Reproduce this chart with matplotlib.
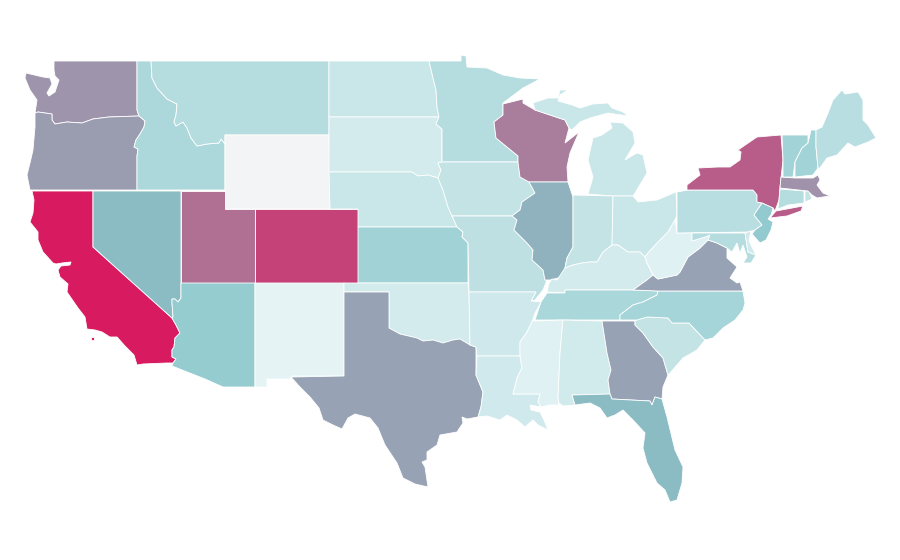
import matplotlib
matplotlib.use('Agg')
from matplotlib import pyplot as plt
from matplotlib.colors import LinearSegmentedColormap, Normalize
from matplotlib.patches import Polygon

# share per state (0-100)
states = ['WA', 'OR', 'CA', 'NV', 'ID', 'MT', 'WY', 'UT', 'AZ', 'CO', 'NM', 'ND', 'SD', 'NE', 'KS', 'OK',
          'TX', 'MN', 'IA', 'MO', 'AR', 'LA', 'WI', 'IL', 'MI', 'IN', 'OH', 'KY', 'TN', 'MS', 'AL', 'GA',
          'FL', 'SC', 'NC', 'VA', 'WV', 'PA', 'NY', 'NJ', 'MD', 'DE', 'CT', 'RI', 'MA', 'VT', 'NH', 'ME']
values = [53, 50, 100, 38, 22, 19.2, 0, 67.5, 30, 85, 4, 13, 9.7, 13, 25.8, 9.7,
          47.5, 19.2, 15, 16.7, 11.6, 10.7, 62, 42, 13, 15, 13, 9.7, 22.7, 5.5, 10.5, 47.5,
          38, 15, 24.3, 47.5, 5.5, 18.3, 74.5, 31, 19.5, 10, 19.2, 15, 54, 25.3, 25.3, 18.3]

# state outlines in map units (one list per ring)
outlines = {
    'WA': [[(54, 61), (137, 61), (137, 110), (139, 116), (109, 117), (93, 119), (82, 123), (67, 122), (55, 124),
            (52, 120), (52, 114), (38, 112), (35, 113), (37, 100), (30, 90), (25, 78), (26, 73), (43, 77), (50, 78),
            (52, 84), (47, 93), (49, 96), (55, 92), (59, 80), (55, 76), (54, 70)]],
    'OR': [[(35, 113), (38, 112), (52, 114), (52, 120), (55, 124), (67, 122), (82, 123), (93, 119), (109, 117),
            (139, 116), (145, 121), (144, 127), (140, 134), (136, 140), (134, 147), (138, 149), (137, 156), (137, 190),
            (30, 190), (27, 175), (30, 163), (33, 150), (35, 127)]],
    'CA': [[(32, 191), (93, 191), (93, 247), (172, 318), (176, 325), (180, 333), (175, 338), (174, 347), (172, 350),
            (172, 357), (176, 359), (173, 363), (167, 363), (143, 364), (137, 365), (134, 355), (125, 346), (117, 337),
            (110, 337), (102, 332), (95, 330), (87, 329), (85, 317), (78, 308), (67, 292), (68, 284), (60, 277),
            (58, 270), (61, 266), (70, 265), (71, 262), (62, 263), (56, 264), (53, 263), (43, 252), (38, 240),
            (38, 232), (30, 222), (33, 213), (34, 200)],
           [(91, 337), (94, 337), (94, 340), (91, 340)]],
    'NV': [[(93, 191), (181, 191), (181, 298), (178, 302), (175, 299), (172, 299), (172, 303), (173, 317), (172, 318),
            (93, 247)]],
    'ID': [[(137, 61), (151, 61), (152, 78), (157, 88), (167, 99), (177, 104), (176, 115), (174, 122), (176, 126),
            (183, 122), (187, 128), (191, 138), (197, 146), (207, 144), (219, 143), (221, 139), (225, 144), (225, 190),
            (137, 190), (137, 156), (138, 149), (134, 147), (136, 140), (140, 134), (144, 127), (145, 121), (139, 116),
            (137, 110)]],
    'MT': [[(151, 61), (329, 61), (329, 135), (225, 135), (225, 144), (221, 139), (219, 143), (207, 144), (197, 146),
            (191, 138), (187, 128), (183, 122), (176, 126), (174, 122), (176, 115), (177, 104), (167, 99), (157, 88),
            (152, 78)]],
    'WY': [[(225, 135), (329, 135), (330, 209), (225, 209)]],
    'UT': [[(181, 191), (225, 191), (225, 209), (255, 209), (255, 283), (181, 283)]],
    'AZ': [[(181, 283), (255, 283), (255, 387), (223, 387), (205, 379), (172, 366), (173, 363), (176, 359), (172, 357),
            (172, 350), (174, 347), (175, 338), (180, 333), (176, 325), (172, 318), (173, 317), (172, 303), (172, 299),
            (175, 299), (178, 302), (181, 298)]],
    'CO': [[(255, 209), (358, 209), (358, 283), (255, 283)]],
    'NM': [[(255, 283), (344, 283), (344, 376), (292, 376), (290, 379), (267, 379), (267, 387), (255, 387)]],
    'ND': [[(329, 61), (429, 61), (433, 78), (436, 90), (437, 107), (439, 117), (329, 117)]],
    'SD': [[(329, 117), (439, 117), (436, 124), (442, 129), (442, 162), (438, 163), (441, 170), (438, 178), (428, 175),
            (418, 176), (412, 172), (329, 172)]],
    'NE': [[(329, 172), (412, 172), (418, 176), (428, 175), (438, 178), (443, 190), (448, 207), (457, 227), (358, 227),
            (358, 209), (330, 209)]],
    'KS': [[(358, 227), (457, 227), (463, 232), (462, 237), (468, 243), (468, 283), (358, 283)]],
    'OK': [[(344, 283), (468, 283), (469, 292), (470, 345), (460, 339), (453, 340), (443, 343), (433, 340), (423, 341),
            (417, 338), (400, 334), (389, 328), (389, 292), (344, 292)]],
    'TX': [[(344, 292), (389, 292), (389, 328), (400, 334), (417, 338), (423, 341), (433, 340), (443, 343), (453, 340),
            (460, 339), (470, 345), (476, 347), (476, 375), (483, 392), (481, 407), (478, 417), (467, 419), (462, 417),
            (463, 423), (457, 432), (440, 435), (437, 445), (427, 452), (427, 460), (422, 462), (425, 467), (428, 487),
            (415, 484), (403, 478), (397, 463), (385, 445), (378, 428), (370, 418), (355, 414), (348, 418), (342, 429),
            (333, 425), (323, 420), (319, 408), (310, 397), (300, 387), (291, 377), (344, 376)]],
    'MN': [[(429, 61), (461, 61), (461, 55), (466, 56), (467, 67), (487, 68), (503, 75), (520, 78), (540, 79), (523, 88),
            (503, 103), (503, 115), (494, 122), (496, 138), (507, 147), (518, 156), (518, 162), (442, 162), (442, 129),
            (436, 124), (439, 117), (437, 107), (436, 90), (433, 78)]],
    'IA': [[(442, 162), (518, 162), (520, 177), (529, 182), (535, 193), (522, 202), (520, 210), (512, 216), (452, 216),
            (448, 207), (443, 190), (438, 178), (441, 170), (438, 163)]],
    'MO': [[(452, 216), (512, 216), (517, 220), (514, 230), (527, 243), (533, 250), (532, 260), (543, 270), (545, 280),
            (547, 280), (543, 290), (535, 300), (531, 301), (536, 292), (469, 292), (468, 243), (462, 237), (463, 232),
            (457, 227)]],
    'AR': [[(469, 292), (536, 292), (531, 301), (541, 302), (535, 313), (532, 322), (527, 332), (520, 342), (520, 356),
            (477, 356), (476, 347), (470, 345)]],
    'LA': [[(477, 356), (520, 356), (522, 368), (517, 378), (513, 394), (540, 394), (538, 402), (541, 407), (530, 405),
            (531, 410), (540, 412), (544, 420), (548, 430), (538, 425), (533, 420), (525, 427), (517, 420), (507, 415),
            (500, 420), (487, 416), (478, 417), (481, 407), (483, 392), (476, 375)]],
    'WI': [[(503, 104), (523, 99), (523, 103), (535, 110), (565, 120), (569, 128), (565, 143), (579, 132), (570, 153),
            (567, 167), (568, 182), (529, 182), (520, 177), (518, 162), (518, 156), (507, 147), (496, 138), (494, 122),
            (503, 115)]],
    'IL': [[(529, 182), (568, 182), (573, 197), (573, 247), (567, 258), (565, 268), (562, 277), (550, 280), (545, 280),
            (543, 270), (532, 260), (533, 250), (527, 243), (514, 230), (517, 220), (512, 216), (520, 210), (522, 202),
            (535, 193)]],
    'MI': [[(533, 103), (548, 98), (558, 98), (560, 90), (568, 90), (560, 95), (558, 101), (572, 105), (580, 108),
            (593, 104), (608, 103), (612, 108), (623, 112), (628, 116), (608, 113), (590, 118), (580, 122), (572, 130),
            (569, 128), (565, 120), (535, 110)],
           [(610, 122), (623, 123), (633, 132), (635, 143), (625, 160), (637, 153), (643, 155), (647, 173), (635, 193),
            (633, 196), (613, 196), (588, 194), (593, 177), (588, 160), (593, 138), (602, 135), (612, 128)]],
    'IN': [[(573, 195), (613, 196), (612, 245), (603, 252), (597, 262), (590, 262), (582, 263), (573, 265), (565, 268),
            (567, 258), (573, 247), (573, 197)]],
    'OH': [[(613, 196), (633, 196), (638, 202), (657, 200), (676, 192), (677, 215), (675, 220), (668, 232), (658, 242),
            (648, 253), (645, 257), (640, 252), (628, 252), (618, 245), (612, 245)]],
    'KY': [[(565, 290), (565, 293), (547, 292), (549, 283), (552, 279), (557, 280), (565, 268), (573, 265), (582, 263),
            (590, 262), (597, 262), (603, 252), (612, 245), (618, 245), (628, 252), (640, 252), (645, 257), (647, 263),
            (653, 275), (647, 280), (633, 290)]],
    'TN': [[(565, 290), (633, 290), (658, 291), (657, 295), (643, 302), (633, 305), (620, 315), (620, 320), (535, 320),
            (541, 302), (547, 293), (565, 293)]],
    'MS': [[(532, 321), (563, 320), (560, 353), (558, 397), (559, 405), (550, 405), (541, 407), (538, 402), (540, 394),
            (513, 394), (517, 378), (522, 368), (520, 356), (520, 342), (527, 332)]],
    'AL': [[(563, 320), (602, 321), (607, 353), (611, 370), (608, 380), (610, 394), (572, 395), (575, 405), (563, 406),
            (559, 403), (558, 397), (560, 353)]],
    'GA': [[(602, 321), (635, 321), (635, 325), (643, 333), (653, 347), (663, 358), (668, 375), (663, 387), (662, 399),
            (655, 397), (652, 405), (650, 401), (612, 399), (610, 394), (608, 380), (611, 370), (607, 353)]],
    'FL': [[(572, 395), (610, 394), (612, 399), (650, 401), (652, 405), (655, 397), (662, 399), (667, 417), (675, 450),
            (683, 467), (682, 483), (677, 500), (670, 502), (665, 490), (657, 483), (647, 463), (643, 448), (645, 433),
            (633, 420), (623, 410), (615, 415), (607, 418), (600, 408), (590, 403), (575, 405)]],
    'SC': [[(635, 321), (637, 320), (647, 317), (668, 318), (672, 323), (689, 323), (705, 340), (697, 350), (683, 358),
            (670, 373), (668, 375), (663, 358), (653, 347), (643, 333), (635, 325)]],
    'NC': [[(620, 320), (620, 315), (633, 305), (643, 302), (657, 295), (658, 291), (743, 291), (745, 303), (743, 310),
            (735, 320), (723, 328), (713, 338), (705, 340), (689, 323), (672, 323), (668, 318), (647, 317), (637, 320)]],
    'VA': [[(633, 290), (647, 280), (653, 275), (658, 279), (677, 275), (680, 272), (688, 257), (700, 248), (708, 240),
            (717, 243), (727, 248), (727, 258), (737, 267), (730, 278), (737, 283), (740, 282), (743, 291), (658, 291)]],
    'WV': [[(675, 220), (677, 233), (692, 233), (692, 241), (705, 237), (710, 235), (708, 240), (700, 248), (688, 257),
            (680, 272), (677, 275), (658, 279), (653, 275), (647, 263), (645, 257), (648, 253), (658, 242), (668, 232)]],
    'PA': [[(677, 192), (688, 190), (753, 190), (757, 195), (757, 202), (762, 203), (754, 215), (762, 225), (755, 230),
            (748, 232), (677, 233)]],
    'NY': [[(687, 190), (687, 185), (700, 175), (698, 168), (718, 167), (730, 167), (740, 160), (741, 152), (738, 150),
            (757, 137), (781, 135), (783, 160), (780, 187), (779, 200), (775, 211), (773, 208), (762, 203), (757, 202),
            (757, 195), (753, 190)],
           [(770, 218), (776, 211), (803, 206), (801, 211), (787, 216)]],
    'NJ': [[(762, 203), (773, 208), (771, 215), (768, 219), (773, 222), (771, 230), (766, 240), (760, 243), (752, 234),
            (755, 230), (762, 225), (754, 215)]],
    'MD': [[(692, 233), (745, 233), (748, 252), (756, 255), (751, 263), (743, 263), (747, 257), (743, 245), (740, 253),
            (737, 243), (732, 252), (727, 248), (717, 243), (708, 240), (710, 235), (705, 237), (692, 241)]],
    'DE': [[(745, 233), (751, 231), (749, 241), (756, 255), (748, 252)]],
    'CT': [[(780, 189), (804, 191), (804, 203), (788, 205), (778, 209), (779, 200)]],
    'RI': [[(805, 191), (809, 191), (812, 199), (805, 202)]],
    'MA': [[(781, 177), (795, 178), (813, 178), (818, 175), (820, 180), (817, 185), (823, 193), (830, 196), (823, 197),
            (817, 198), (812, 195), (808, 191), (780, 188)]],
    'VT': [[(782, 135), (808, 135), (808, 143), (802, 148), (795, 162), (793, 177), (783, 177), (783, 160)]],
    'NH': [[(811, 130), (816, 130), (816, 147), (818, 168), (813, 175), (795, 177), (795, 162), (802, 148), (808, 143)]],
    'ME': [[(816, 130), (822, 127), (828, 113), (833, 100), (842, 90), (845, 94), (858, 92), (863, 100), (863, 120),
            (868, 125), (876, 138), (868, 142), (855, 147), (848, 143), (837, 155), (827, 158), (820, 168), (818, 168),
            (816, 147)]],
}

cmap = LinearSegmentedColormap.from_list('share', [
    (0.00, '#f3f4f6'), (0.04, '#e5f3f5'), (0.30, '#93ccd0'), (0.38, '#8bbcc4'), (1.00, '#d81b60')])
norm = Normalize(0, 100)

fig = plt.figure(figsize=(9, 5.6), dpi=100)
ax = fig.add_axes([0, 0, 1, 1])
ax.set_xlim(0, 900)
ax.set_ylim(560, 0)
ax.axis('off')

for name, val in zip(states, values):
    for ring in outlines[name]:
        ax.add_patch(Polygon(ring, closed=True, facecolor=cmap(norm(val)), edgecolor='white', linewidth=0.6))

fig.savefig('out.png', dpi=100, facecolor='white')
